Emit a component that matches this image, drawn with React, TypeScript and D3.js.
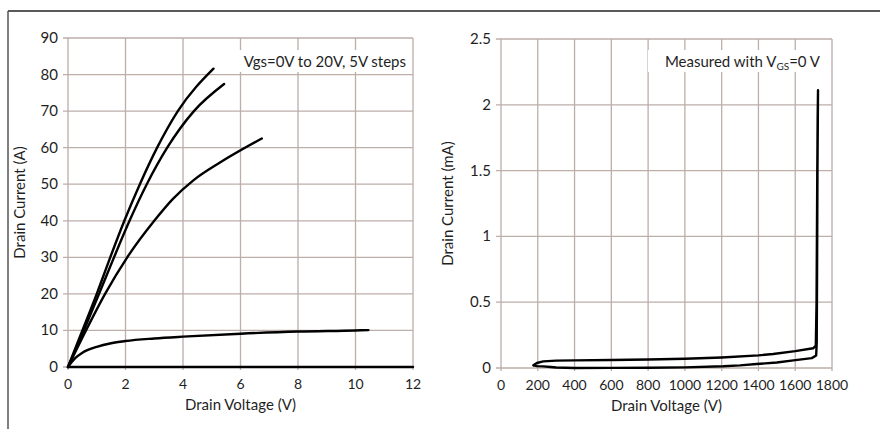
import React from "react";
import * as d3 from "d3";

// Left chart: output characteristics, Vgs = 0..20V in 5V steps
const vgs20 = [
  [0, 0], [0.5, 10], [1.0, 20], [1.47, 30], [1.96, 40], [2.5, 50],
  [3.1, 60], [3.82, 70], [5.06, 81.6],
];
const vgs15 = [
  [0, 0], [0.55, 10], [1.08, 20], [1.6, 30], [2.14, 40], [2.74, 50],
  [3.45, 60], [4.38, 70], [5.43, 77.4],
];
const vgs10 = [
  [0, 0], [0.625, 10], [1.29, 20], [2.06, 30], [3.0, 40], [3.65, 46],
  [4.35, 51], [5.3, 56], [6.74, 62.5],
];
const vgs5 = [
  [0, 0], [0.25, 2.4], [0.5, 3.9], [1, 5.5], [1.5, 6.5], [2, 7.1],
  [3, 7.8], [4, 8.3], [6, 9.1], [8, 9.7], [10, 10.0], [10.45, 10.1],
];
const vgs0 = [[0, 0], [12, 0]];
const leftSeries = [vgs20, vgs15, vgs10, vgs5, vgs0];
const leftXTicks = [0, 2, 4, 6, 8, 10, 12];
const leftYTicks = [0, 10, 20, 30, 40, 50, 60, 70, 80, 90];

// Right chart: blocking leakage loop, Vgs = 0V
const leakageLoop = [
  [176, 0.02], [195, 0.038], [230, 0.05], [300, 0.056], [400, 0.058],
  [600, 0.061], [800, 0.065], [1000, 0.07], [1200, 0.08], [1400, 0.096],
  [1480, 0.106], [1600, 0.128], [1697, 0.15], [1712, 0.17], [1716, 0.5],
  [1718, 1.0], [1720, 1.5], [1722, 1.9], [1724, 2.11], [1721, 1.5],
  [1719, 0.8], [1717, 0.2], [1714, 0.095], [1690, 0.075], [1590, 0.058],
  [1500, 0.042], [1390, 0.03], [1300, 0.02], [1209, 0.013], [1000, 0.005],
  [800, 0.002], [600, 0.001], [400, 0.0], [300, 0.004], [270, 0.008],
  [230, 0.012], [195, 0.014], [176, 0.02],
];
const rightXTicks = [0, 200, 400, 600, 800, 1000, 1200, 1400, 1600, 1800];
const rightYTicks = [0, 0.5, 1, 1.5, 2, 2.5];

const FONT = "Lato, 'Open Sans', sans-serif";
const GRID = "#bcaea9";
const TEXT = "#1f1f1f";

type Panel = {
  x0: number; x1: number; y0: number; y1: number;
  xDomain: [number, number]; yDomain: [number, number];
  xTicks: number[]; yTicks: number[];
  series: number[][][];
  smooth: boolean;
  yTitle: string; yTitleX: number;
  note: React.ReactNode; noteRight: number;
};

function ChartPanel(p: Panel) {
  const x = d3.scaleLinear().domain(p.xDomain).range([p.x0, p.x1]);
  const y = d3.scaleLinear().domain(p.yDomain).range([p.y0, p.y1]);
  const line = d3
    .line<number[]>()
    .x((d) => x(d[0]))
    .y((d) => y(d[1]))
    .curve(p.smooth ? d3.curveMonotoneX : d3.curveLinear);
  const cy = (p.y0 + p.y1) / 2;
  return (
    <g fontFamily={FONT} fill={TEXT}>
      {/* grid */}
      {p.yTicks.map((t) => (
        <line key={"gy" + t} x1={p.x0 - 5} x2={p.x1} y1={y(t)} y2={y(t)} stroke={GRID} strokeWidth={1.3} />
      ))}
      {p.xTicks.map((t) => (
        <line key={"gx" + t} x1={x(t)} x2={x(t)} y1={p.y1} y2={p.y0 + 3} stroke={GRID} strokeWidth={1.3} />
      ))}
      {/* tick labels */}
      {p.yTicks.map((t) => (
        <text key={"ly" + t} x={p.x0 - 10} y={y(t) + 5} textAnchor="end" fontSize={15}>
          {t}
        </text>
      ))}
      {p.xTicks.map((t) => (
        <text key={"lx" + t} x={x(t)} y={p.y0 + 22} textAnchor="middle" fontSize={14}>
          {t}
        </text>
      ))}
      {/* curves */}
      {p.series.map((s, i) => (
        <path
          key={"s" + i}
          d={line(s) || ""}
          fill="none"
          stroke="#000"
          strokeWidth={2.4}
          strokeLinejoin="round"
          strokeLinecap="round"
        />
      ))}
      {/* titles */}
      <text x={(p.x0 + p.x1) / 2} y={p.y0 + 43} textAnchor="middle" fontSize={15}>
        Drain Voltage (V)
      </text>
      <text
        transform={`translate(${p.yTitleX},${cy}) rotate(-90)`}
        textAnchor="middle"
        dy={5}
        fontSize={15}
      >
        {p.yTitle}
      </text>
      <rect x={p.noteRight - 172} y={50} width={176} height={22} fill="#fff" />
      <text x={p.noteRight} y={67} textAnchor="end" fontSize={15}>
        {p.note}
      </text>
    </g>
  );
}

export default function App() {
  return (
    <svg width={880} height={429} style={{ display: "block", position: "absolute", left: 0, top: 0, background: "#fff" }}>
      <rect width={880} height={429} fill="#fff" />
      <line x1={8} x2={880} y1={11} y2={11} stroke="#222" strokeWidth={1.5} />
      <line x1={8} x2={8} y1={11} y2={429} stroke="#555" strokeWidth={1.5} />
      <ChartPanel
        x0={68} x1={413} y0={367} y1={38}
        xDomain={[0, 12]} yDomain={[0, 90]}
        xTicks={leftXTicks} yTicks={leftYTicks}
        series={leftSeries} smooth={true}
        yTitle="Drain Current (A)" yTitleX={20}
        note="Vgs=0V to 20V, 5V steps" noteRight={406}
      />
      <ChartPanel
        x0={501} x1={832} y0={368} y1={39}
        xDomain={[0, 1800]} yDomain={[0, 2.5]}
        xTicks={rightXTicks} yTicks={rightYTicks}
        series={[leakageLoop]} smooth={false}
        yTitle="Drain Current (mA)" yTitleX={448}
        note={
          <>
            Measured with V<tspan fontSize={10} dy={3}>GS</tspan>
            <tspan dy={-3}>=0 V</tspan>
          </>
        }
        noteRight={820}
      />
    </svg>
  );
}
